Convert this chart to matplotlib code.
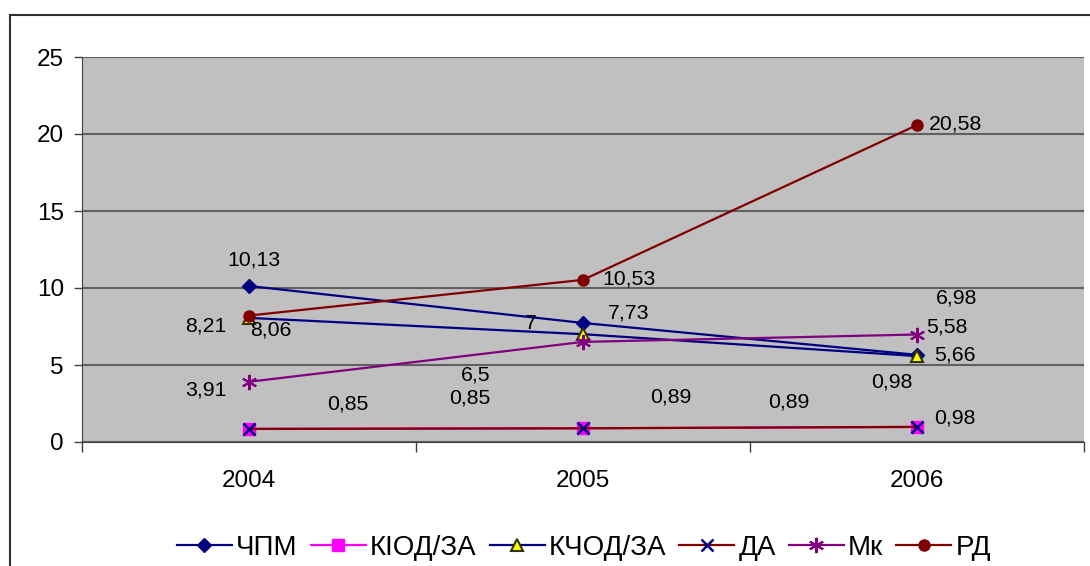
import numpy as np
import matplotlib
matplotlib.use("Agg")
import matplotlib.pyplot as plt
from matplotlib.lines import Line2D

years = ["2004", "2005", "2006"]
chpm = [10.13, 7.73, 5.66]
kiod = [0.85, 0.89, 0.98]
kchod = [8.06, 7.0, 5.58]
da = [0.85, 0.89, 0.98]
mk = [3.91, 6.5, 6.98]
rd = [8.21, 10.53, 20.58]
names = ["ЧПМ", "КІОД/ЗА", "КЧОД/ЗА", "ДА", "Мк", "РД"]
label_text = [
    ["10,13", "7,73", "5,66"],
    ["0,85", "0,89", "0,98"],
    ["8,06", "7", "5,58"],
    ["0,85", "0,89", "0,98"],
    ["3,91", "6,5", "6,98"],
    ["8,21", "10,53", "20,58"],
]

# label offsets in pixels from each point (x right, y up)
label_off = [
    [(5, 26), (46, 10), (38, 0)],
    [(99, 25), (88, 31), (-25, 45)],
    [(22, -12), (-52, 11), (30, 29)],
    [(221, 31), (206, 26), (38, 9)],
    [(-43, -8), (-107, -33), (40, 37)],
    [(-43, -10), (46, 1), (38, 1)],
]

styles = [
    dict(color="#000080", marker="D", mfc="#000080", mec="#000080", ms=7),
    dict(color="#FF00FF", marker="s", mfc="#FF00FF", mec="#FF00FF", ms=8),
    dict(color="#000080", marker="^", mfc="#FFFF00", mec="#333300", ms=9, mew=1.5),
    dict(color="#800000", marker="x", mfc="#000080", mec="#000080", ms=9, mew=1.8),
    dict(color="#800080", marker=(6, 2, 0), mfc="#800080", mec="#800080", ms=11, mew=1.5),
    dict(color="#800000", marker="o", mfc="#800000", mec="#800000", ms=8),
]

plt.rcParams["font.family"] = ["Liberation Sans", "DejaVu Sans"]

fig = plt.figure(figsize=(10.9, 5.66), dpi=100)
ax = fig.add_axes([82 / 1090, 1 - 442 / 566, 1002 / 1090, 385 / 566])
ax.set_facecolor("#C0C0C0")

x = np.arange(len(years))
series = [chpm, kiod, kchod, da, mk, rd]
for vals, st, nm in zip(series, styles, names):
    ax.plot(x, vals, lw=1.6, label=nm, clip_on=False, **st)

for vals, txts, offs in zip(series, label_text, label_off):
    for xi, v, t, o in zip(x, vals, txts, offs):
        ax.annotate(t, (xi, v), xytext=o, textcoords="offset pixels",
                    ha="center", va="center", fontsize=15.3, color="black")

ax.set_xlim(-0.5, 2.5)
ax.set_ylim(0, 25)
ax.set_yticks(np.arange(0, 26, 5))
ax.yaxis.grid(True, color="#606060", lw=1.5)
ax.set_axisbelow(True)
ax.tick_params(axis="y", labelsize=17.5, length=6, width=1, pad=7, color="#404040")

ax.set_xticks([-0.5, 0.5, 1.5, 2.5])
ax.set_xticklabels([])
ax.set_xticks(x, minor=True)
ax.set_xticklabels(years, minor=True)
ax.tick_params(axis="x", which="major", length=7, width=1, color="#404040")
ax.tick_params(axis="x", which="minor", length=0, labelsize=17.5, pad=20)

for s in ["top", "right"]:
    ax.spines[s].set_visible(False)
ax.spines["left"].set_color("#404040")
ax.spines["bottom"].set_color("#404040")

# chart border (cut off at right and bottom)
fig.add_artist(Line2D([10 / 1090, 1.0], [1 - 15 / 566, 1 - 15 / 566],
                      color="#303030", lw=1.5, transform=fig.transFigure))
fig.add_artist(Line2D([10 / 1090, 10 / 1090], [0, 1 - 15 / 566],
                      color="#303030", lw=1.5, transform=fig.transFigure))

fig.legend(loc="center", bbox_to_anchor=(584 / 1090, 1 - 548 / 566), ncol=6,
           frameon=False, handlelength=1.98, handletextpad=0.15,
           columnspacing=0.47, borderaxespad=0, borderpad=0,
           prop={"family": ["Liberation Sans", "DejaVu Sans"], "size": 20})

fig.savefig("out.png", dpi=100)
